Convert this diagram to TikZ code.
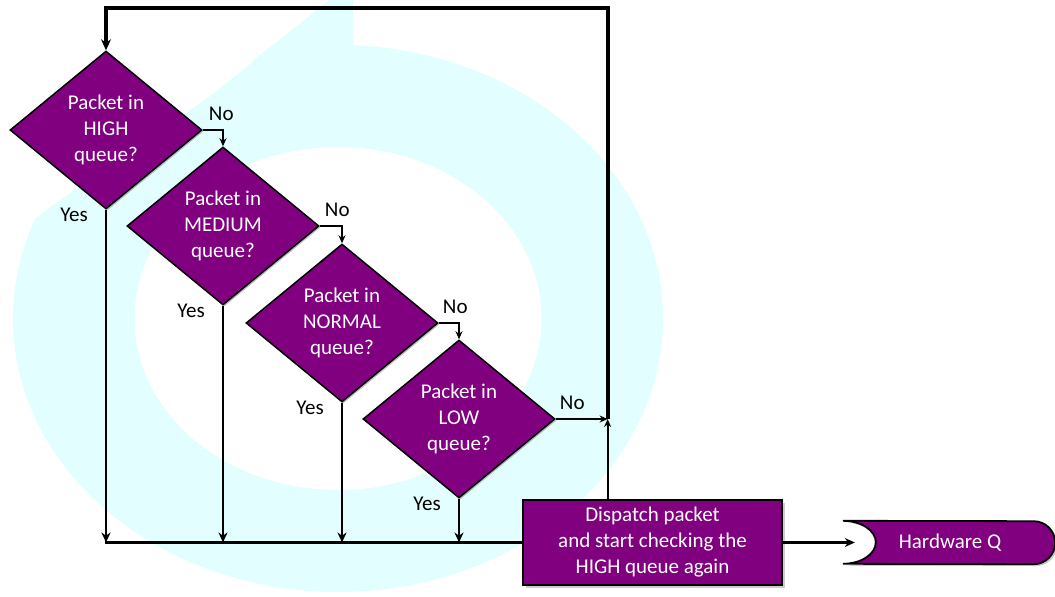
\documentclass[tikz,border=0pt]{standalone}
\usepackage{fontspec}
\setmainfont{Carlito}
\usepackage{xcolor}
\usetikzlibrary{shapes.geometric, arrows.meta, positioning, backgrounds, shadows}
\definecolor{qpurple}{RGB}{128,0,128}
\definecolor{wmcyan}{RGB}{226,254,254}
\tikzstyle{arrow}     = [line width=2.8pt, -{Stealth[length=10pt,width=9pt]}]
\tikzstyle{noarrow}   = [line width=1.8pt, -{Stealth[length=8pt,width=7pt]}]
\tikzstyle{looparrow} = [line width=4pt, -{Stealth[length=11pt,width=10pt]}]
\tikzstyle{line}      = [line width=2.8pt]
\tikzstyle{decision}  = [diamond, draw, line width=1.5pt, fill=qpurple, text=white,
                         minimum width=192pt, minimum height=158pt, inner sep=1pt,
                         drop shadow={shadow xshift=1.5pt, shadow yshift=-1.5pt, opacity=0.5}]
\tikzstyle{block}     = [rectangle, draw, line width=1.8pt, fill=qpurple, text=white,
                         minimum width=259pt, minimum height=85pt,
                         drop shadow={shadow xshift=2.5pt, shadow yshift=-2.5pt, opacity=0.4}]
\tikzstyle{lbl}       = [inner sep=0pt]
\tikzset{every node/.style={align=center, font=\fontsize{21}{26}\selectfont}}

\begin{document}
\begin{tikzpicture}[x=1pt, y=1pt]
    \useasboundingbox (0,0) rectangle (1055,-597);

    % faint watermark behind the chart
    \begin{scope}[on background layer]
        \begin{scope}
            \clip (330,0) -- (209,-97) -- (60,-200) -- (0,-245) -- (0,-620)
                  -- (1100,-620) -- (1100,0) -- cycle;
            \fill[wmcyan] (338,-318.5) ellipse [x radius=325, y radius=273.5];
        \end{scope}
        \fill[wmcyan] (330,0) -- (353,0) -- (353,-60) -- (253.5,-60) -- cycle;
        \fill[white] (338,-318.5) ellipse [x radius=203.5, y radius=171.5];
    \end{scope}

    \node (high)     at (106,-130)   [decision] {Packet in\\HIGH\\queue?};
    \node (medium)   at (223,-226)   [decision] {Packet in\\MEDIUM\\queue?};
    \node (normal)   at (342,-323)   [decision] {Packet in\\NORMAL\\queue?};
    \node (low)      at (459,-419)   [decision] {Packet in\\LOW\\queue?};
    \node (dispatch) at (652.5,-542.5) [block]
          {Dispatch packet\\and start checking the\\HIGH queue again};
    \node (hwq)      at (950,-542.5) [minimum width=210pt, minimum height=43pt,
                                      inner sep=0pt, text=white] {Hardware Q};

    % queue shape behind its label
    \begin{scope}[on background layer]
        \filldraw[fill=qpurple, draw=black, line width=1.8pt,
                  drop shadow={shadow xshift=2pt, shadow yshift=-2pt, opacity=0.4}]
            ([xshift=-2pt]hwq.north west)
            arc[start angle=90, end angle=-90, x radius=33pt, y radius=21.5pt]
            -- ([xshift=-21.5pt]hwq.south east)
            arc[start angle=-90, end angle=90, radius=21.5pt] -- cycle;
    \end{scope}

    % labels
    \node (noHigh)    [lbl, above right=9pt and 6pt of high.east]    {No};
    \node (noMedium)  [lbl, above right=9pt and 5pt of medium.east]  {No};
    \node (noNormal)  [lbl, above right=9pt and 4pt of normal.east]  {No};
    \node (noLow)     [lbl, above right=9pt and 4pt of low.east]     {No};
    \node (yesHigh)   [lbl, below left=-2pt and 18pt of high.south]   {Yes};
    \node (yesMedium) [lbl, below left=-2pt and 18pt of medium.south] {Yes};
    \node (yesNormal) [lbl, below left=-2pt and 18pt of normal.south] {Yes};
    \node (yesLow)    [lbl, below left=-2pt and 18pt of low.south]    {Yes};

    % no branches
    \draw [noarrow] (high.east)   -| (medium.north);
    \draw [noarrow] (medium.east) -| (normal.north);
    \draw [noarrow] (normal.east) -| (low.north);

    % yes branches into the dispatch line
    \draw [arrow] (high.south)   -- (high.south |- dispatch.west);
    \draw [arrow] (medium.south) -- (medium.south |- dispatch.west);
    \draw [arrow] (normal.south) -- (normal.south |- dispatch.west);
    \draw [arrow] (low.south)    -- (low.south |- dispatch.west);
    \draw [line]  ([xshift=-1.4pt]high.south |- dispatch.west) -- (dispatch.west);

    % back to the HIGH queue
    \coordinate (loopx) at ([xshift=85.5pt]dispatch.north west);
    \coordinate (jn)    at (loopx |- low.east);
    \draw [noarrow]   (low.east) -- (jn);
    \draw [noarrow]   (loopx) -- (jn);
    \draw [looparrow] (jn) |- ([yshift=42pt]high.north) -- (high.north);

    \draw [arrow] (dispatch.east) -- ([xshift=10pt]hwq.west);
\end{tikzpicture}
\end{document}
